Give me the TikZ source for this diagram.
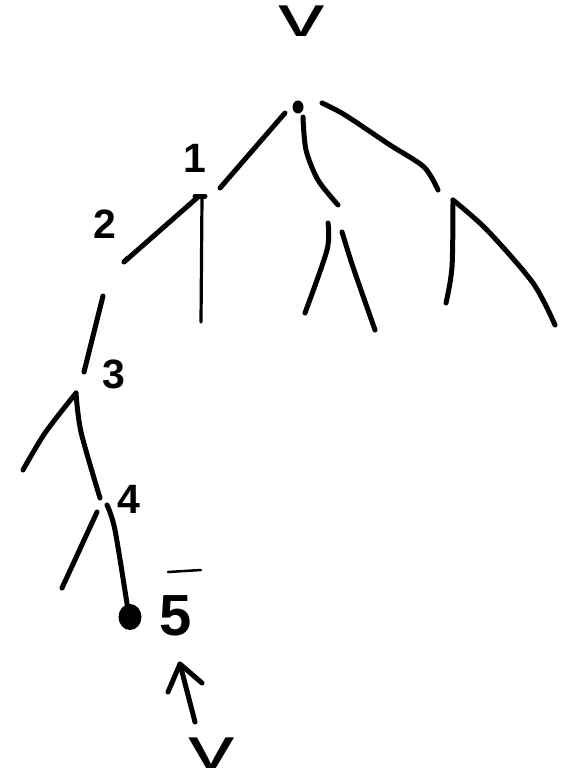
\documentclass[tikz,border=0pt]{standalone}
\usepackage{fontspec}
\setmainfont{Liberation Sans}
\begin{document}
\begin{tikzpicture}[x=1pt,y=-1pt,
  stroke/.style={line width=5pt,line cap=round,line join=round},
  thin stroke/.style={line width=3.2pt,line cap=round,line join=round},
  digit/.style={inner sep=0pt,anchor=base,font=\fontsize{41}{41}\selectfont\bfseries},
  vee/.style={inner sep=0pt,anchor=base,font=\fontsize{58}{58}\selectfont,xscale=1.6}]
\useasboundingbox (0,0) rectangle (577,773);
% named points
\coordinate (root) at (298,107);
\coordinate (n1) at (200,196);
\coordinate (n2) at (124,262);
\coordinate (n3) at (76,393);
\coordinate (n4) at (104,506);
\coordinate (leaf) at (130,617);
\coordinate (m) at (338,205);
\coordinate (r) at (438,190);
\coordinate (rr) at (453,200);
% dots
\fill (root) ellipse (5.5 and 6.5);
\fill (leaf) ellipse (11.5 and 13);
% root edges
\draw[stroke] (285,113) -- (220,188);
\draw[stroke] plot[smooth] coordinates {(303,117) (306,150) (318,180) (338,205)};
\draw[stroke] plot[smooth] coordinates {(322,103) (345,115) (390,145) (424,167) (438,190)};
% node 1
\draw[stroke] (195,196) -- (205,196);
\draw[stroke] (198,197) -- (n2) -- (128,258);
\draw[thin stroke] (202,197) -- (201,322);
% gap line below node 2
\draw[stroke] (103,296) -- (84,372);
% node 3
\draw[stroke] plot[smooth] coordinates {(23,470) (45,433) (n3)};
\draw[stroke] plot[smooth] coordinates {(n3) (81,432) (100,498)};
% node 4
\draw[stroke] (97,512) -- (62,588);
\draw[stroke] plot[smooth] coordinates {(107,505) (115,530) (128,610)};
% middle subtree
\draw[stroke] plot[smooth] coordinates {(328,223) (327,250) (305,313)};
\draw[stroke] plot[smooth] coordinates {(342,232) (353,267) (375,330)};
% right subtree
\draw[stroke] plot[smooth] coordinates {(446,303) (452,267) (rr)};
\draw[stroke] plot[smooth] coordinates {(rr) (487,230) (533,283) (555,325)};
% arrow
\coordinate (tip) at (180,664);
\coordinate (tail) at (195,722);
\draw[stroke] (tail) -- (tip);
\draw[stroke] (168,692) -- (tip) -- (202,683);
% labels
\node[vee] (vtop) at (302,37) {v};
\node[digit] (l1) at (195,172) {1};
\node[digit] (l2) at (105,238) {2};
\node[digit] (l3) at (114,388) {3};
\node[digit] (l4) at (129,513) {4};
\node[digit,font=\fontsize{58}{58}\selectfont\bfseries] (l5) at (176,635) {5};
\draw[line width=2.5pt,line cap=round] (168,572) -- (201,570);
\node[vee] (vbot) at (212,768) {v};
\end{tikzpicture}
\end{document}
